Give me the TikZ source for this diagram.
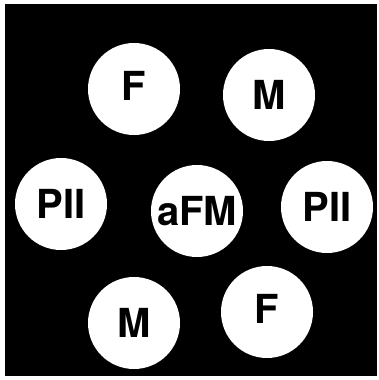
\documentclass[tikz,border=0pt]{standalone}
\usepackage{fontspec}
\setmainfont{TeX Gyre Heros}
\begin{document}
\begin{tikzpicture}[x=1pt,y=-1pt,
  cell/.style={circle,fill=white,inner sep=0pt,minimum size=92pt,
    font=\fontsize{40}{40}\selectfont\bfseries}]
\useasboundingbox (0,0) rectangle (379,380);
\fill[black] (5,4) rectangle (377,376);

\node[cell] (f1) at (134,89) {\raisebox{6pt}{F}};
\node[cell] (m1) at (269,95) {M};

\node[cell] (p1) at (61,204) {PII};
\node[cell] (afm) at (197,211) {aFM};
\node[cell] (p2) at (327,207) {PII};

\node[cell] (m2) at (134,323) {M};
\node[cell] (f2) at (267,312) {\raisebox{6pt}{F}};
\end{tikzpicture}
\end{document}
